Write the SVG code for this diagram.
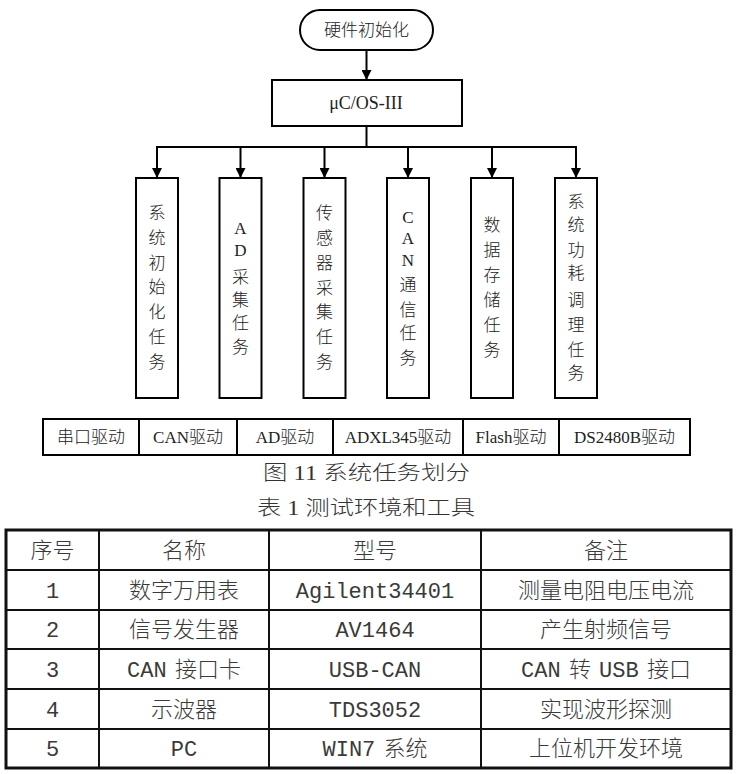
<svg xmlns="http://www.w3.org/2000/svg" width="739" height="774" viewBox="0 0 739 774">
<defs>
<style>
.box{fill:#fff;stroke:#000;stroke-width:2}
.ln{fill:none;stroke:#000;stroke-width:2}
.t{font-family:"Liberation Serif","Noto Sans CJK SC",serif;fill:#222;text-anchor:middle;font-weight:300}
.v{font-size:17px}
.d{font-size:17px}
.cap{font-size:20px;fill:#333}
.tb{font-family:"Liberation Mono","Noto Sans CJK SC",monospace;font-size:22px;fill:#3a3a3a;text-anchor:middle;font-weight:300;word-spacing:-5px}
.tl{fill:none;stroke:#111;stroke-width:2}
.to{fill:none;stroke:#111;stroke-width:3}
</style>
<marker id="ah" viewBox="0 0 10 10" refX="10" refY="5" markerWidth="10" markerHeight="10" markerUnits="userSpaceOnUse" orient="auto">
<path d="M0,0 L10,5 L0,10 Z" fill="#000"/>
</marker>
</defs>
<rect width="739" height="774" fill="#fff"/>

<g id="connectors">
<line class="ln" x1="366.5" y1="50" x2="366.5" y2="80" marker-end="url(#ah)"/>
<polyline class="ln" points="366.5,126 366.5,147"/>
<line class="ln" x1="157" y1="147" x2="576" y2="147"/>
<line class="ln" x1="157" y1="146" x2="157" y2="178" marker-end="url(#ah)"/>
<line class="ln" x1="240.5" y1="147" x2="240.5" y2="178" marker-end="url(#ah)"/>
<line class="ln" x1="324.5" y1="147" x2="324.5" y2="178" marker-end="url(#ah)"/>
<line class="ln" x1="408" y1="147" x2="408" y2="178" marker-end="url(#ah)"/>
<line class="ln" x1="492" y1="147" x2="492" y2="178" marker-end="url(#ah)"/>
<line class="ln" x1="576" y1="146" x2="576" y2="178" marker-end="url(#ah)"/>
</g>

<g id="start">
<rect class="box" x="300" y="10" width="133" height="40" rx="20" ry="20"/>
<text class="t" x="366.5" y="36" font-size="17">硬件初始化</text>
</g>

<g id="os">
<rect class="box" x="272" y="80" width="190" height="46"/>
<text class="t" x="366" y="109" font-size="18">μC/OS-III</text>
</g>

<g id="task1">
<rect class="box" x="136" y="178" width="42" height="220"/>
<text class="t v"><tspan x="157" y="219">系</tspan><tspan x="157" y="244">统</tspan><tspan x="157" y="269">初</tspan><tspan x="157" y="293">始</tspan><tspan x="157" y="318">化</tspan><tspan x="157" y="343">任</tspan><tspan x="157" y="368">务</tspan></text>
</g>
<g id="task2">
<rect class="box" x="219.5" y="178" width="42" height="220"/>
<text class="t v"><tspan x="240.5" y="234">A</tspan><tspan x="240.5" y="256">D</tspan><tspan x="240.5" y="283">采</tspan><tspan x="240.5" y="306">集</tspan><tspan x="240.5" y="329">任</tspan><tspan x="240.5" y="353">务</tspan></text>
</g>
<g id="task3">
<rect class="box" x="303.5" y="178" width="42" height="220"/>
<text class="t v"><tspan x="324.5" y="219">传</tspan><tspan x="324.5" y="244">感</tspan><tspan x="324.5" y="269">器</tspan><tspan x="324.5" y="294">采</tspan><tspan x="324.5" y="318">集</tspan><tspan x="324.5" y="343">任</tspan><tspan x="324.5" y="368">务</tspan></text>
</g>
<g id="task4">
<rect class="box" x="387" y="178" width="42" height="220"/>
<text class="t v"><tspan x="408" y="223">C</tspan><tspan x="408" y="244">A</tspan><tspan x="408" y="266">N</tspan><tspan x="408" y="291">通</tspan><tspan x="408" y="316">信</tspan><tspan x="408" y="339">任</tspan><tspan x="408" y="364">务</tspan></text>
</g>
<g id="task5">
<rect class="box" x="471" y="178" width="42" height="220"/>
<text class="t v"><tspan x="492" y="231">数</tspan><tspan x="492" y="256">据</tspan><tspan x="492" y="281">存</tspan><tspan x="492" y="306">储</tspan><tspan x="492" y="331">任</tspan><tspan x="492" y="356">务</tspan></text>
</g>
<g id="task6">
<rect class="box" x="555" y="178" width="42" height="220"/>
<text class="t v"><tspan x="576" y="208">系</tspan><tspan x="576" y="231">统</tspan><tspan x="576" y="256">功</tspan><tspan x="576" y="279">耗</tspan><tspan x="576" y="306">调</tspan><tspan x="576" y="331">理</tspan><tspan x="576" y="356">任</tspan><tspan x="576" y="379">务</tspan></text>
</g>

<g id="drivers">
<rect class="box" x="43" y="419" width="647" height="36"/>
<line class="ln" x1="139" y1="419" x2="139" y2="455"/>
<line class="ln" x1="237" y1="419" x2="237" y2="455"/>
<line class="ln" x1="333" y1="419" x2="333" y2="455"/>
<line class="ln" x1="463" y1="419" x2="463" y2="455"/>
<line class="ln" x1="559" y1="419" x2="559" y2="455"/>
<text class="t d" x="91" y="443">串口驱动</text>
<text class="t d" x="188" y="443">CAN驱动</text>
<text class="t d" x="285" y="443">AD驱动</text>
<text class="t d" x="398" y="443">ADXL345驱动</text>
<text class="t d" x="511" y="443">Flash驱动</text>
<text class="t d" x="624.5" y="443">DS2480B驱动</text>
</g>

<g id="captions">
<text class="t cap" x="366.5" y="480" textLength="207" lengthAdjust="spacingAndGlyphs">图 11 系统任务划分</text>
<text class="t cap" x="366" y="515" textLength="218" lengthAdjust="spacingAndGlyphs">表 1 测试环境和工具</text>
</g>

<g id="table">
<rect class="to" x="6" y="530" width="725" height="238"/>
<line class="tl" x1="6" y1="570" x2="731" y2="570"/>
<line class="tl" x1="6" y1="610" x2="731" y2="610"/>
<line class="tl" x1="6" y1="649" x2="731" y2="649"/>
<line class="tl" x1="6" y1="689" x2="731" y2="689"/>
<line class="tl" x1="6" y1="729" x2="731" y2="729"/>
<line class="tl" x1="99" y1="530" x2="99" y2="768"/>
<line class="tl" x1="269" y1="530" x2="269" y2="768"/>
<line class="tl" x1="481" y1="530" x2="481" y2="768"/>
<text class="tb" x="52.5" y="558">序号</text>
<text class="tb" x="184" y="558">名称</text>
<text class="tb" x="375" y="558">型号</text>
<text class="tb" x="606" y="558">备注</text>
<text class="tb" x="52.5" y="598">1</text>
<text class="tb" x="184" y="598">数字万用表</text>
<text class="tb" x="375" y="598">Agilent34401</text>
<text class="tb" x="606" y="598">测量电阻电压电流</text>
<text class="tb" x="52.5" y="637">2</text>
<text class="tb" x="184" y="637">信号发生器</text>
<text class="tb" x="375" y="637">AV1464</text>
<text class="tb" x="606" y="637">产生射频信号</text>
<text class="tb" x="52.5" y="677">3</text>
<text class="tb" x="184" y="677">CAN 接口卡</text>
<text class="tb" x="375" y="677">USB-CAN</text>
<text class="tb" x="606" y="677">CAN 转 USB 接口</text>
<text class="tb" x="52.5" y="717">4</text>
<text class="tb" x="184" y="717">示波器</text>
<text class="tb" x="375" y="717">TDS3052</text>
<text class="tb" x="606" y="717">实现波形探测</text>
<text class="tb" x="52.5" y="756">5</text>
<text class="tb" x="184" y="756">PC</text>
<text class="tb" x="375" y="756">WIN7 系统</text>
<text class="tb" x="606" y="756">上位机开发环境</text>
</g>
</svg>
